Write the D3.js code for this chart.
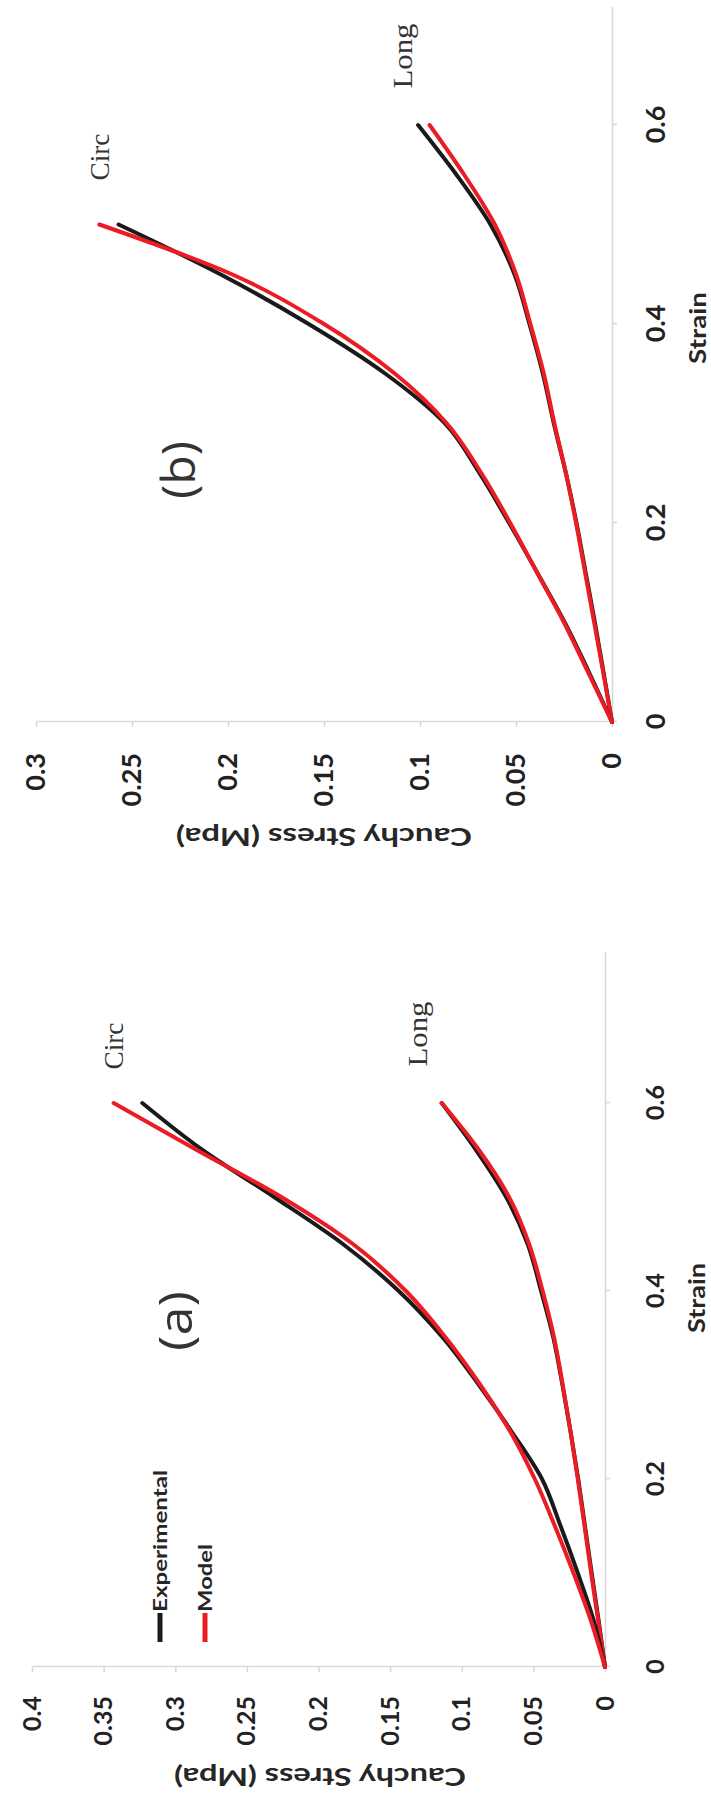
<!DOCTYPE html>
<meta charset="utf-8">
<style>

body {
  margin: 0;
  background: #fff;
}

svg {
  display: block;
}

.axis path, .axis line {
  stroke: #d9d9d9;
  stroke-width: 1.6;
}

.axis text {
  font-family: Lato, "Open Sans", sans-serif;
  font-weight: 700;
  fill: #222;
}

.curve {
  fill: none;
  stroke-width: 4;
  stroke-linejoin: round;
  stroke-linecap: round;
}

.title {
  font-family: Lato, "Open Sans", sans-serif;
  font-weight: 700;
  fill: #262626;
}

.note {
  font-family: "Liberation Serif", serif;
  fill: #333;
}

.panel {
  font-family: "Open Sans", sans-serif;
  fill: #333;
}

</style>
<svg width="711" height="1804"></svg>
<script src="https://cdnjs.cloudflare.com/ajax/libs/d3/7.8.5/d3.min.js"></script>
<script>

// strain grid shared by the curves, and tick values
var strainTicks = [0, 0.2, 0.4, 0.6];
var stressTicksA = [0, 0.05, 0.1, 0.15, 0.2, 0.25, 0.3, 0.35, 0.4];
var stressTicksB = [0, 0.05, 0.1, 0.15, 0.2, 0.25, 0.3];

var strainA = [0, 0.05, 0.1, 0.15, 0.2, 0.25, 0.3, 0.35, 0.4, 0.45, 0.5, 0.55, 0.6];
var circExpA = [0, 0.008, 0.019, 0.031, 0.044, 0.065, 0.088, 0.113, 0.144, 0.183, 0.231, 0.281, 0.323];
var circModA = [0, 0.010, 0.022, 0.035, 0.049, 0.066, 0.087, 0.111, 0.139, 0.176, 0.226, 0.285, 0.343];
var longExpA = [0, 0.0045, 0.0093, 0.014, 0.0187, 0.024, 0.0297, 0.036, 0.0446, 0.054, 0.069, 0.090, 0.114];
var longModA = [0, 0.0048, 0.0097, 0.0143, 0.019, 0.024, 0.0295, 0.0355, 0.0435, 0.053, 0.067, 0.088, 0.114];

var strainB = [0, 0.05, 0.1, 0.15, 0.2, 0.25, 0.3, 0.35, 0.4, 0.45, 0.5, 0.55, 0.6];
var circExpB = [0, 0.012, 0.0246, 0.0389, 0.0536, 0.069, 0.087, 0.118, 0.158, 0.204, 0.257];
var circModB = [0, 0.0125, 0.025, 0.039, 0.053, 0.068, 0.086, 0.113, 0.150, 0.198, 0.267];
var longExpB = [0, 0.0044, 0.0089, 0.0137, 0.0185, 0.024, 0.0303, 0.036, 0.043, 0.0508, 0.0633, 0.081, 0.101];
var longModB = [0, 0.0046, 0.0093, 0.014, 0.0187, 0.024, 0.030, 0.0355, 0.0425, 0.050, 0.061, 0.077, 0.095];

var black = "#1a1a1a",
    red = "#ec1c24";

var svg = d3.select("svg");

svg.append("rect").attr("width", 711).attr("height", 1804).attr("fill", "#fff");

function fmt(d) { return d === 0 ? "0" : String(+d.toFixed(2)); }

// each chart is drawn upright and then turned a quarter turn left
function drawPanel(p) {
  var g = svg.append("g")
      .attr("transform", "translate(" + p.ox + "," + p.oy + ") rotate(-90)");

  var x = d3.scaleLinear().domain([0, p.strainMax]).range([0, p.strainMax * p.strainPx]),
      y = d3.scaleLinear().domain([0, p.stressMax]).range([0, -p.stressLen]);

  g.append("g")
      .attr("class", "axis")
      .call(d3.axisBottom(x).tickValues(strainTicks).tickSize(5).tickSizeOuter(0)
        .tickPadding(p.strainPad).tickFormat(fmt))
      .attr("font-size", p.fs);

  g.append("g")
      .attr("class", "axis")
      .call(d3.axisLeft(y).tickValues(p.stressTicks).tickSize(5).tickSizeOuter(0)
        .tickPadding(p.stressPad).tickFormat(fmt))
      .attr("font-size", p.fs);

  var line = d3.line()
      .x(function(d) { return x(d[0]); })
      .y(function(d) { return y(d[1]); })
      .curve(d3.curveMonotoneX);

  p.series.forEach(function(s) {
    g.append("path")
        .attr("class", "curve")
        .attr("stroke", s.color)
        .attr("d", line(d3.zip(s.strain, s.stress)));
  });
}

drawPanel({
  ox: 605, oy: 1667, strainPx: 940, strainMax: 0.76,
  stressMax: 0.4, stressLen: 573, stressTicks: stressTicksA,
  fs: 25, strainPad: 36, stressPad: 24,
  series: [
    {strain: strainA, stress: longExpA, color: black},
    {strain: strainA, stress: longModA, color: red},
    {strain: strainA, stress: circExpA, color: black},
    {strain: strainA, stress: circModA, color: red}
  ]
});

drawPanel({
  ox: 612, oy: 722, strainPx: 995, strainMax: 0.718,
  stressMax: 0.3, stressLen: 576, stressTicks: stressTicksB,
  fs: 27, strainPad: 29, stressPad: 26,
  series: [
    {strain: strainB, stress: longExpB, color: black},
    {strain: strainB, stress: longModB, color: red},
    {strain: strainB.slice(0, circExpB.length), stress: circExpB, color: black},
    {strain: strainB.slice(0, circModB.length), stress: circModB, color: red}
  ]
});

// text set sideways, reading upwards
function sideText(cx, cy, str, cls, size, angle, anchor) {
  return svg.append("text")
      .attr("class", cls)
      .attr("transform", "translate(" + cx + "," + cy + ") rotate(" + (angle || -90) + ")")
      .attr("text-anchor", anchor || "middle")
      .attr("dominant-baseline", "central")
      .attr("font-size", size)
      .text(str);
}

function fit(sel, len) {
  return sel.attr("textLength", len).attr("lengthAdjust", "spacingAndGlyphs");
}

// axis titles
fit(sideText(320, 1778, "Cauchy Stress (Mpa)", "title", 25, 180), 292);
fit(sideText(324, 838, "Cauchy Stress (Mpa)", "title", 25, 180), 296);
fit(sideText(696, 1298, "Strain", "title", 23), 70);
fit(sideText(697, 328, "Strain", "title", 23), 72);

// panel letters
fit(sideText(174, 1321, "(a)", "panel", 46), 60);
fit(sideText(177, 470, "(b)", "panel", 46), 58);

// curve notes
fit(sideText(113, 1046, "Circ", "note", 28), 47);
fit(sideText(417, 1034, "Long", "note", 28), 65);
fit(sideText(99, 157, "Circ", "note", 28), 47);
fit(sideText(402, 56, "Long", "note", 28), 65);

// legend of chart (a)
var legend = [
  {name: "Experimental", color: black, x: 160, len: 142},
  {name: "Model", color: red, x: 205, len: 68}
];

legend.forEach(function(d) {
  svg.append("line")
      .attr("x1", d.x).attr("x2", d.x)
      .attr("y1", 1642).attr("y2", 1613)
      .attr("stroke", d.color)
      .attr("stroke-width", 5);
  fit(sideText(d.x, 1612, d.name, "title", 18, -90, "start"), d.len)
      .attr("fill", "#222");
});

</script>
